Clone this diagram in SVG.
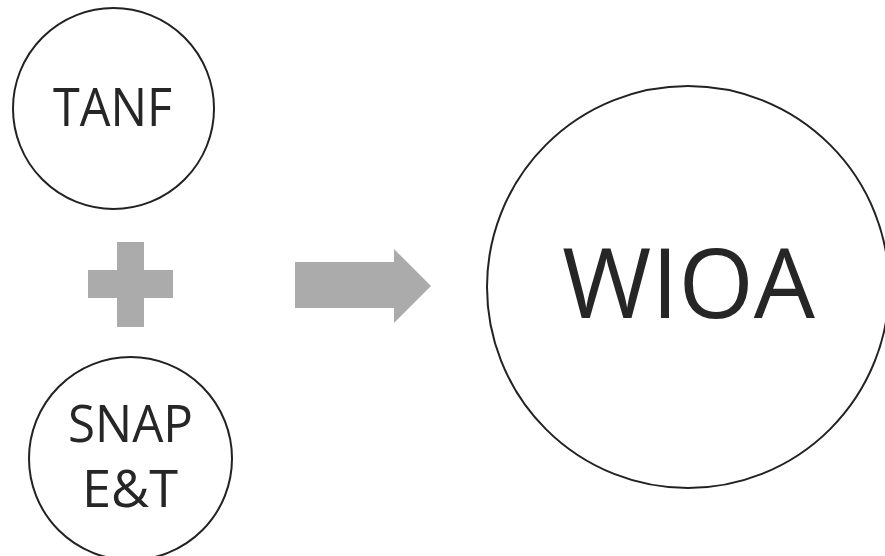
<svg xmlns="http://www.w3.org/2000/svg" width="885" height="556" viewBox="0 0 885 556">
<style>
.c{fill:#fff;stroke:#222;stroke-width:2}
.t{font-family:"Open Sans","Liberation Sans",sans-serif;fill:#262626;text-anchor:middle}
.g{fill:#ababab}
</style>
<rect width="885" height="556" fill="#fff"/>
<g id="tanf"><circle class="c" cx="113.5" cy="108.5" r="100.5"/><text class="t" x="112.5" y="126" font-size="53" textLength="119" lengthAdjust="spacingAndGlyphs">TANF</text></g>
<g id="snap"><circle class="c" cx="130.5" cy="458.5" r="101.5"/><text class="t" x="130.5" y="442" font-size="52" textLength="125" lengthAdjust="spacingAndGlyphs">SNAP</text><text class="t" x="130" y="507" font-size="52" textLength="96" lengthAdjust="spacingAndGlyphs">E&amp;T</text></g>
<g id="wioa"><circle class="c" cx="688" cy="287" r="201"/><text class="t" x="688.5" y="318" font-size="97" textLength="253" lengthAdjust="spacingAndGlyphs">WIOA</text></g>
<g id="plus"><path class="g" d="M117 242H144V270H173V298H144V327H117V298H88V270H117Z"/></g>
<g id="connectors"><path class="g" d="M295 262H394V249L431 286L394 323V308H295Z"/></g>
</svg>
